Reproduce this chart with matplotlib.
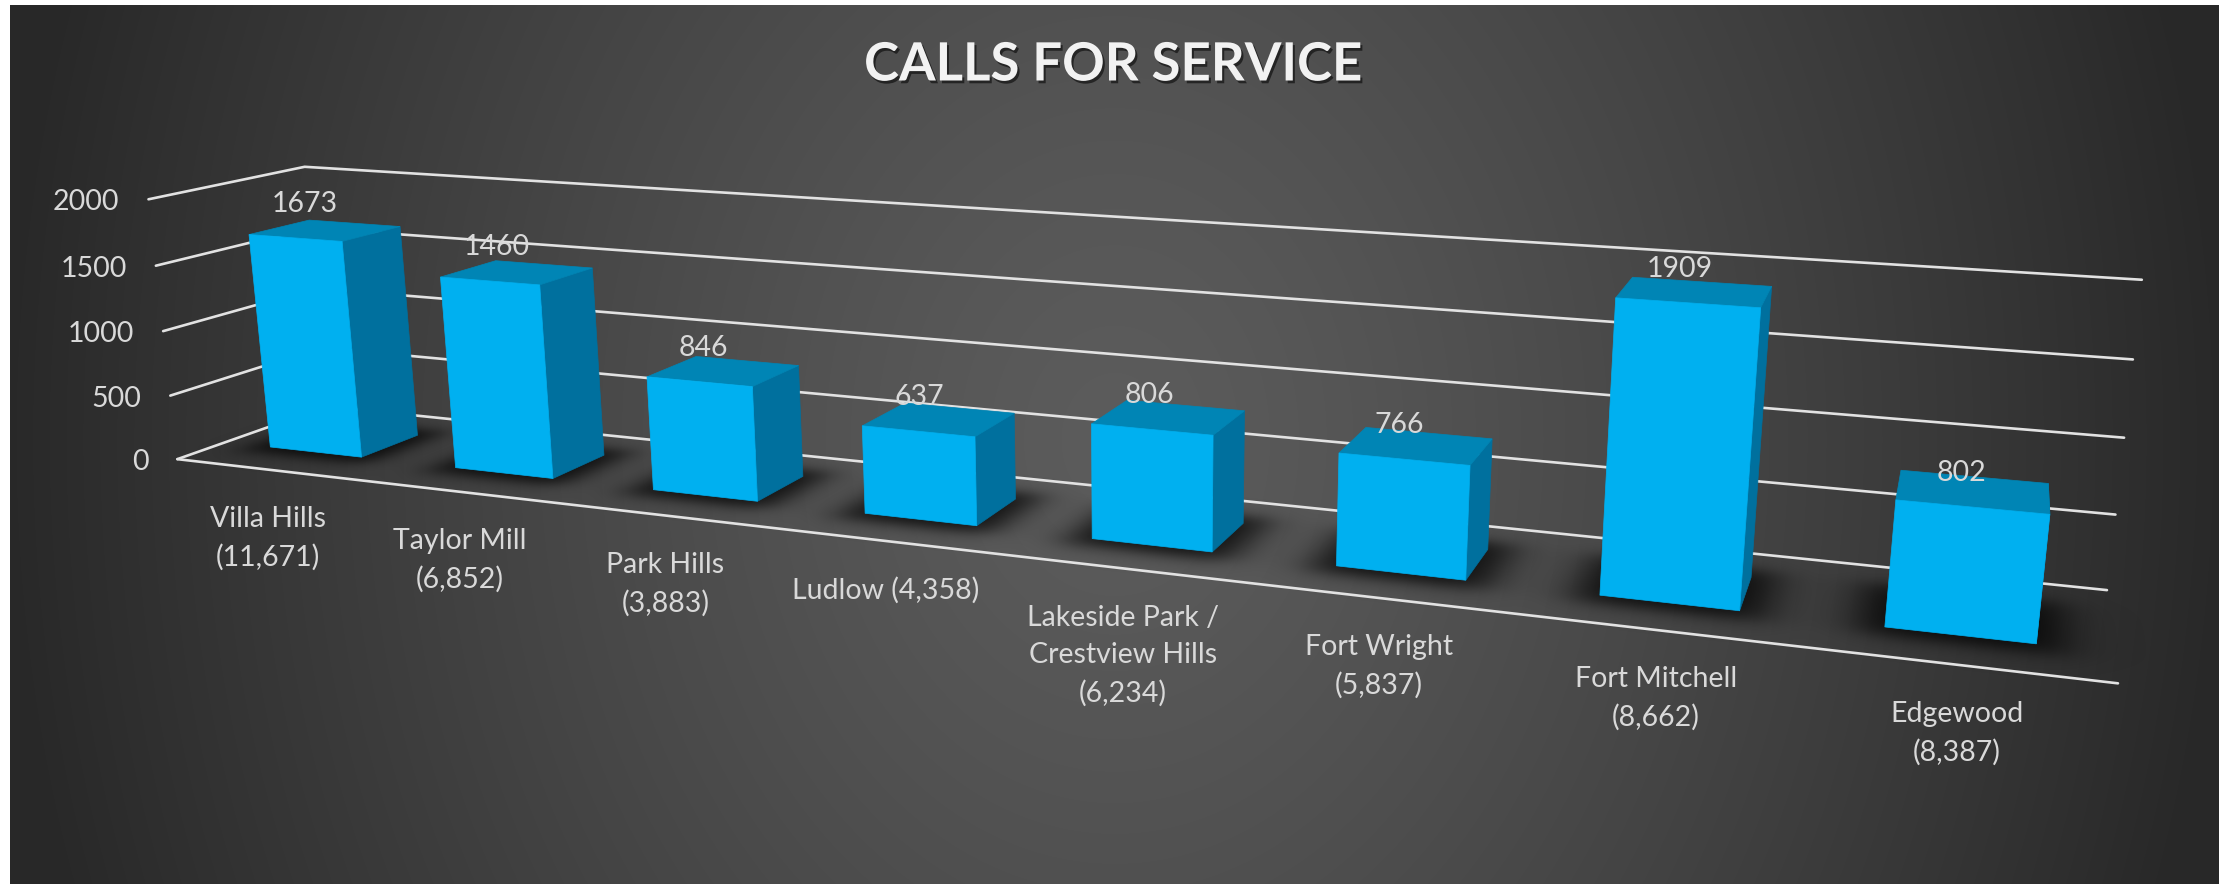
import numpy as np
import matplotlib
matplotlib.use('Agg')
import matplotlib.pyplot as plt
import matplotlib.patheffects as pe
from matplotlib.patches import Polygon

categories = ['Villa Hills\n(11,671)', 'Taylor Mill\n(6,852)', 'Park Hills\n(3,883)', 'Ludlow (4,358)',
              'Lakeside Park /\nCrestview Hills\n(6,234)', 'Fort Wright\n(5,837)', 'Fort Mitchell\n(8,662)', 'Edgewood\n(8,387)']
calls = [1673, 1460, 846, 637, 806, 766, 1909, 802]
yticks = [0, 500, 1000, 1500, 2000]

# camera of the 3D chart: (category, depth 0-1, value) -> pixel
CAM = np.array([[174.0316802, 178.6509639, -0.0165989, 177.3762431],
                [5.9090374, -16.770816, -0.1328183, 459.1502275],
                [-0.0323622, 0.0886567, -1.45e-05, 1.0]])
V0, V1, HW = 0.3058, 0.7018, 0.2502
FONT = 'Lato'
TXT = '#d9d9d9'


def project(u, v, w):
    h = CAM @ np.array([u, v, w, 1.0])
    return h[0] / h[2], h[1] / h[2]


fig = plt.figure(figsize=(22.31, 8.84), dpi=100, facecolor='white')
ax = fig.add_axes([0, 0, 1, 1])
ax.set_xlim(0, 2231)
ax.set_ylim(884, 0)
ax.axis('off')

# radial background
xx, yy = np.meshgrid(np.arange(2231) + 0.5, np.arange(884) + 0.5)
d = np.sqrt(((xx - 1115) / 1115) ** 2 + ((yy - 440) / 1400) ** 2)
grey = (0x5c - (0x5c - 0x28) * np.clip(d, 0, 1) ** 1.3) / 255
bg = np.dstack([grey, grey, grey, np.ones_like(grey)])
bg[:5, :, 3] = 0
bg[:, :10, 3] = 0
bg[:, 2219:, 3] = 0
ax.imshow(bg, extent=(0, 2231, 884, 0), aspect='auto', zorder=0, interpolation='nearest')

# soft shadows on the floor, worked out per pixel by inverting the floor plane
H = np.linalg.inv(CAM[:, [0, 1, 3]])
un = H[0, 0] * xx + H[0, 1] * yy + H[0, 2]
vn = H[1, 0] * xx + H[1, 1] * yy + H[1, 2]
wn = H[2, 0] * xx + H[2, 1] * yy + H[2, 2]
uu, vv = un / wn, vn / wn


def sig(t):
    return 1 / (1 + np.exp(np.clip(t, -30, 30)))


shade = np.zeros_like(grey)
for i in range(len(calls)):
    c = i + 0.5
    grow, s = 0.09, 0.05
    shade += (sig(((c - HW - grow) - uu) / s) * sig((uu - (c + HW + grow)) / s)
              * sig(((V0 - grow) - vv) / s) * sig((vv - (V1 + grow)) / s))
shadow = np.zeros(grey.shape + (4,))
shadow[..., 3] = np.clip(shade, 0, 1) * 0.8
ax.imshow(shadow, extent=(0, 2231, 884, 0), aspect='auto', zorder=1, interpolation='bilinear')
ax.set_xlim(0, 2231)
ax.set_ylim(884, 0)

# walls and floor
for w in yticks:
    a, b, c = project(0, 0, w), project(0, 1, w), project(8, 1, w)
    ax.plot([a[0], b[0], c[0]], [a[1], b[1], c[1]], color='#e2e2e2', lw=1.9, zorder=2, solid_capstyle='round')
    ax.text(a[0] - 29, a[1] + 3, str(w), color=TXT, fontsize=20.5, family=FONT, ha='right', va='center', zorder=6)
a, b = project(0, 0, 0), project(8, 0, 0)
ax.plot([a[0], b[0]], [a[1], b[1]], color='#e2e2e2', lw=1.9, zorder=2, solid_capstyle='round')

# bars
for i, val in enumerate(calls):
    u0, u1 = i + 0.5 - HW, i + 0.5 + HW
    side = [project(u1, V0, 0), project(u1, V1, 0), project(u1, V1, val), project(u1, V0, val)]
    top = [project(u0, V0, val), project(u1, V0, val), project(u1, V1, val), project(u0, V1, val)]
    front = [project(u0, V0, 0), project(u1, V0, 0), project(u1, V0, val), project(u0, V0, val)]
    for pts, col in ((side, '#00709e'), (top, '#0085b5'), (front, '#00b0f0')):
        ax.add_patch(Polygon(pts, closed=True, facecolor=col, edgecolor=col, lw=0.5, zorder=3))
    tx, ty = project(i + 0.5, V0, val)
    ax.text(tx + 10 - 3 * i, ty - 34, str(val), color=TXT, fontsize=20.5, family=FONT, ha='center', va='center', zorder=6)
    lx, ly = project(i + 0.5, 0, 0)
    ax.text(lx - 1, ly + 36, categories[i], color=TXT, fontsize=20.5, family=FONT, ha='center', va='top',
            linespacing=1.55, zorder=6)

ax.text(1113, 65, 'CALLS FOR SERVICE', color='#f2f2f2', fontsize=38, family=FONT, fontweight='bold',
        ha='center', va='center', zorder=6,
        path_effects=[pe.SimplePatchShadow(offset=(1.5, -2), alpha=0.55, shadow_rgbFace='black'), pe.Normal()])

fig.savefig('out.png', dpi=100, facecolor='white')
